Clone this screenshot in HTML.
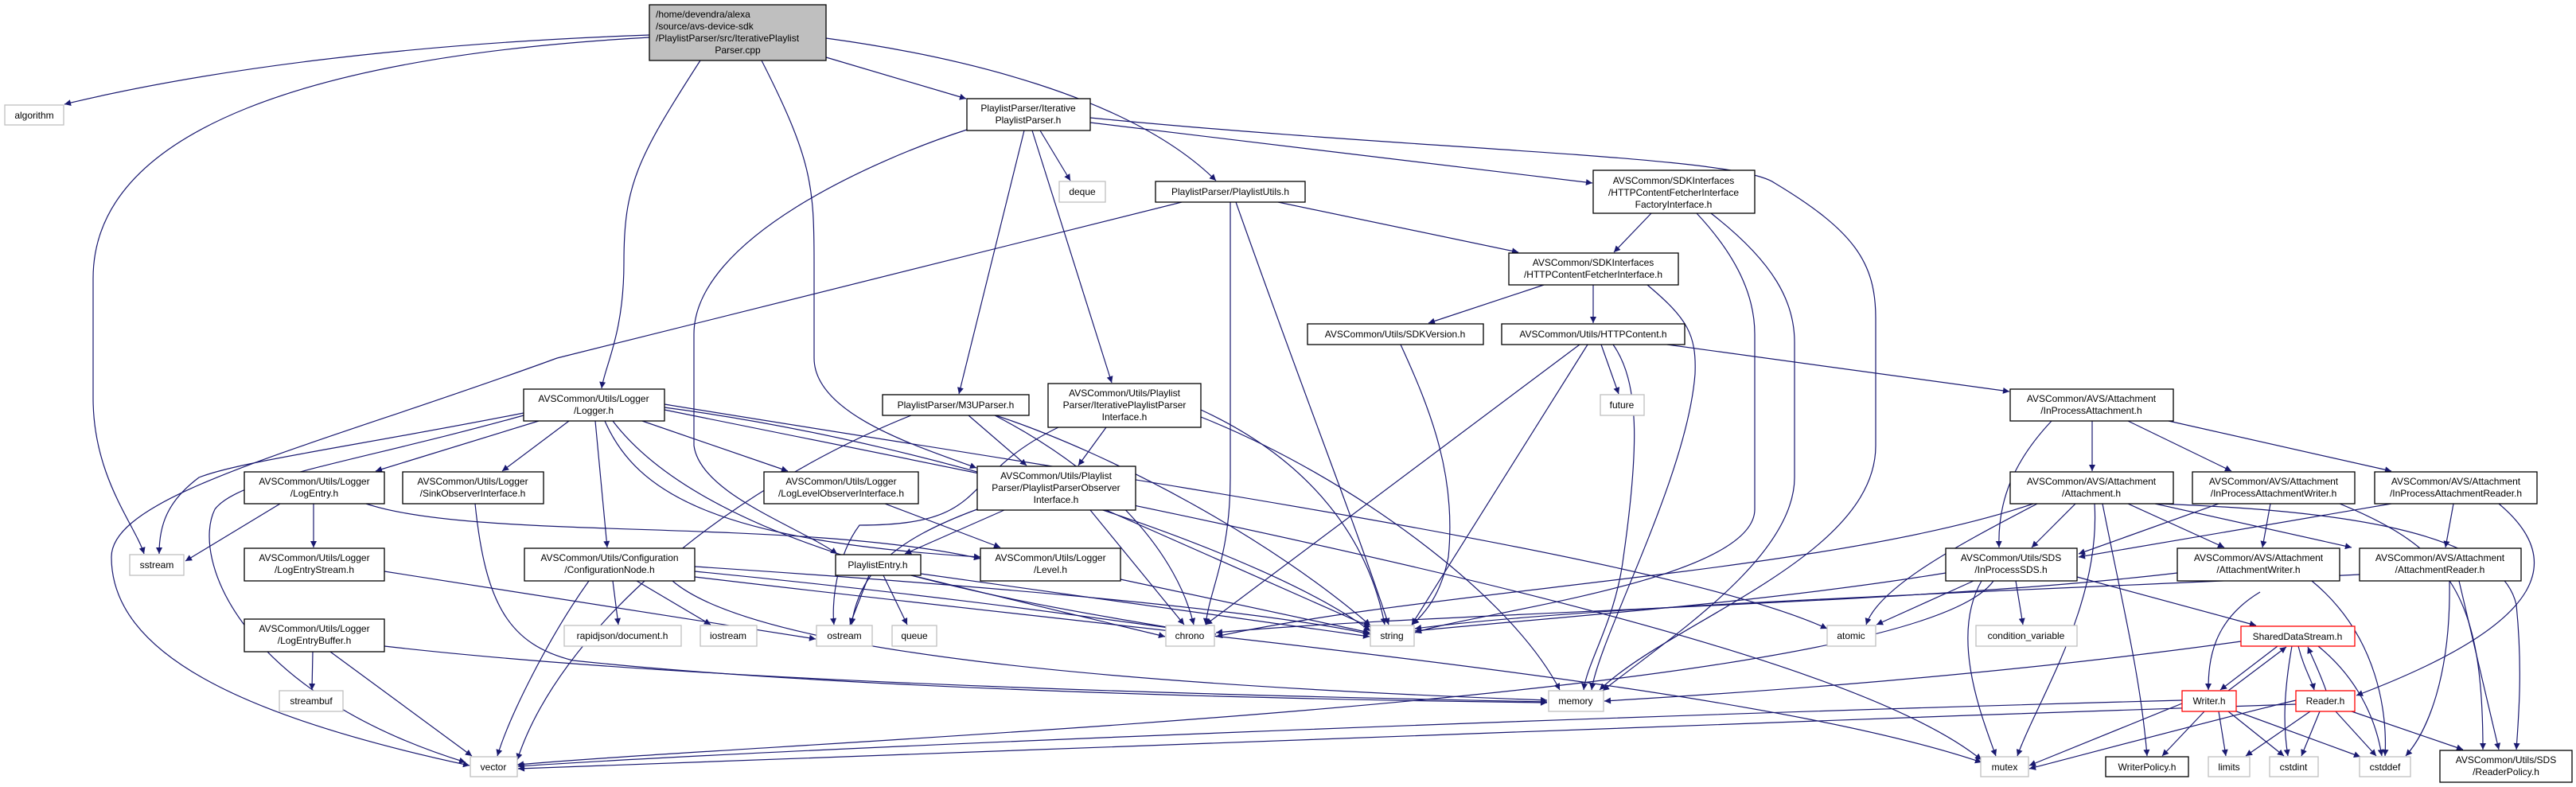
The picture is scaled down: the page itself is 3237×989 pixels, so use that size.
<!DOCTYPE html>
<html><head><meta charset="utf-8"><style>
html,body{margin:0;padding:0;background:#fff;}
svg{display:block;}
text{font-family:"Liberation Sans",sans-serif;font-size:12px;fill:#000;}
.e{fill:none;stroke:#191970;stroke-width:1.2;}
.n{fill:#fff;stroke:#000;stroke-width:1.3;}
.s{fill:#fff;stroke:#bfbfbf;stroke-width:1.3;}
.r{fill:#fff;stroke:#ff0000;stroke-width:1.3;}
</style></head><body>
<svg width="3237" height="989" viewBox="0 0 3237 989" xmlns="http://www.w3.org/2000/svg">
<defs><marker id="a" viewBox="0 0 10 10" refX="10" refY="5" markerWidth="10" markerHeight="8" markerUnits="userSpaceOnUse" orient="auto"><path d="M0,0 L10,5 L0,10 z" fill="#191970"/></marker></defs>
<g class="e" marker-end="url(#a)">
<!-- root -->
<path d="M816,44 C500,55 250,90 81,131"/>
<path d="M816,47 C400,70 117,160 117,350 L117,500 C117,600 170,660 181,696"/>
<path d="M880,76 C800,200 784,233 784,330 C784,420 760,460 756,488"/>
<path d="M957,76 C1020,200 1023,233 1023,330 L1023,450 C1023,520 1150,560 1227,588"/>
<path d="M1038,72 L1214,124"/>
<path d="M1038,48 C1200,70 1420,120 1528,227"/>
<!-- IterativePlaylistParser.h -->
<path d="M1307,164 L1345,227"/>
<path d="M1287,164 L1205,495"/>
<path d="M1297,164 L1397,481"/>
<path d="M1215,163 C1100,200 872,300 872,420 L872,560 C880,620 1000,660 1052,696"/>
<path d="M1370,154 L2001,230"/>
<path d="M1370,148 C1800,190 2180,195 2230,230 C2330,290 2357,330 2357,400 L2357,560 C2357,700 2100,780 2010,867"/>
<!-- PlaylistUtils -->
<path d="M1606,254 L1908,317"/>
<path d="M1485,254 L700,450 C400,560 140,620 140,700 C140,820 300,900 590,962"/>
<path d="M1546,254 L1546,600 C1546,700 1520,740 1515,785"/>
<path d="M1553,254 C1640,500 1700,650 1745,785"/>
<!-- Factory -->
<path d="M2075,268 L2028,317"/>
<path d="M2132,268 C2190,330 2205,380 2205,420 L2205,640 C2205,730 1850,770 1778,795"/>
<path d="M2150,268 C2230,330 2255,380 2255,430 L2255,600 C2255,700 2100,800 2014,868"/>
<!-- HTTPContentFetcherInterface -->
<path d="M1940,358 L1795,406"/>
<path d="M2002,358 L2002,406"/>
<path d="M2070,358 C2120,400 2132,420 2130,470 C2120,600 2010,800 2000,867"/>
<!-- SDKVersion -->
<path d="M1760,433 C1800,520 1830,600 1820,700 C1810,750 1790,770 1775,785"/>
<!-- HTTPContent -->
<path d="M2012,433 L2034,495"/>
<path d="M1985,433 L1515,785"/>
<path d="M1995,433 L1774,785"/>
<path d="M2027,433 C2060,480 2060,560 2040,700 C2030,780 1995,830 1990,867"/>
<path d="M2095,433 L2525,492"/>
<!-- InProcessAttachment -->
<path d="M2629,529 L2629,592"/>
<path d="M2674,529 L2804,592"/>
<path d="M2725,529 L3005,592"/>
<path d="M2578,529 C2530,580 2510,630 2512,688"/>
<!-- Attachment.h -->
<path d="M2608,633 L2553,688"/>
<path d="M2674,633 L2795,688"/>
<path d="M2708,633 L2955,688"/>
<path d="M2560,633 C2450,690 2360,740 2345,785"/>
<path d="M2642,633 C2665,750 2690,850 2698,950"/>
<path d="M2632,633 C2640,760 2560,880 2535,950"/>
<path d="M2555,633 C2300,720 1800,740 1528,800"/>
<path d="M2710,633 C2900,640 3140,660 3162,760 C3170,840 3165,900 3162,942"/>
<!-- InProcessAttachmentWriter -->
<path d="M2788,633 L2612,696"/>
<path d="M2853,633 L2843,688"/>
<path d="M2940,633 C3080,690 3120,750 3120,942"/>
<!-- InProcessAttachmentReader -->
<path d="M3005,633 L2612,700"/>
<path d="M3083,633 L3073,688"/>
<path d="M3140,633 C3220,700 3210,780 2961,874"/>
<!-- InProcessSDS -->
<path d="M2480,730 L2358,785"/>
<path d="M2533,730 L2542,785"/>
<path d="M2610,725 L2835,786"/>
<path d="M2490,730 C2450,800 2490,900 2508,950"/>
<path d="M2445,720 C2200,760 1900,780 1778,793"/>
<path d="M2505,730 C2400,880 1000,930 650,961"/>
<!-- AttachmentWriter -->
<path d="M2840,744 C2780,780 2775,830 2775,867"/>
<path d="M2905,730 C2990,800 3000,900 2997,950"/>
<path d="M2736,720 C2400,760 1800,770 1528,795"/>
<!-- AttachmentReader -->
<path d="M3078,730 C3080,850 3050,920 3023,950"/>
<path d="M3090,730 L3140,942"/>
<path d="M2965,722 C2600,740 2000,760 1778,790"/>
<!-- SharedDataStream -->
<path d="M2862,812 L2790,867"/>
<path d="M2888,812 C2895,840 2905,855 2908,867"/>
<path d="M2880,812 C2868,880 2870,920 2875,950"/>
<path d="M2913,812 C2960,850 2985,900 2993,950"/>
<path d="M2816,806 C2500,850 2200,870 2016,881"/>
<!-- Writer -->
<path d="M2800,868 L2873,813"/>
<path d="M2742,884 L2550,962"/>
<path d="M2770,894 L2717,950"/>
<path d="M2788,894 L2797,950"/>
<path d="M2800,894 L2870,950"/>
<path d="M2805,892 L2966,951"/>
<path d="M2742,880 C2000,900 1000,940 651,963"/>
<!-- Reader -->
<path d="M2923,868 C2915,845 2905,825 2900,813"/>
<path d="M2885,880 C2800,900 2650,940 2550,966"/>
<path d="M2903,894 L2822,950"/>
<path d="M2915,894 L2892,950"/>
<path d="M2935,894 L2986,950"/>
<path d="M2955,894 L3095,942"/>
<path d="M2885,885 C2000,915 1000,950 651,966"/>
<!-- Logger.h -->
<path d="M677,529 L472,592"/>
<path d="M715,529 L631,592"/>
<path d="M807,529 L990,592"/>
<path d="M748,529 L763,688"/>
<path d="M658,519 C450,560 300,580 250,600 C210,630 200,660 200,696"/>
<path d="M658,522 C450,580 300,600 270,640 C240,700 300,870 585,958"/>
<path d="M760,529 C800,620 900,680 1232,700"/>
<path d="M770,529 C900,700 1300,760 1490,792"/>
<path d="M835,512 C1200,560 1600,700 1722,793"/>
<path d="M835,508 C1400,600 2100,700 2296,790"/>
<path d="M835,515 C1500,650 2300,800 2490,955"/>
<!-- LogEntry -->
<path d="M352,633 L233,705"/>
<path d="M394,633 L394,688"/>
<path d="M460,633 C600,680 1000,650 1232,702"/>
<!-- SinkObserver -->
<path d="M597,633 C610,760 640,810 720,830 C1100,870 1700,880 1944,883"/>
<!-- LogLevelObserver -->
<path d="M1112,633 L1257,688"/>
<!-- LogEntryStream -->
<path d="M483,718 L1025,803"/>
<!-- LogEntryBuffer -->
<path d="M393,819 L392,867"/>
<path d="M415,819 L593,950"/>
<path d="M483,812 C900,860 1600,875 1944,882"/>
<!-- ConfigurationNode -->
<path d="M770,730 L777,785"/>
<path d="M800,730 L893,785"/>
<path d="M740,730 C690,800 640,900 625,950"/>
<path d="M873,718 C1200,750 1400,780 1528,797"/>
<path d="M873,712 C1300,740 1600,770 1722,797"/>
<path d="M845,730 C950,820 1400,860 1944,880"/>
<path d="M873,725 C1500,800 2200,860 2490,958"/>
<!-- PlaylistEntry -->
<path d="M1092,723 L1068,785"/>
<path d="M1110,723 L1140,785"/>
<path d="M1145,723 L1464,800"/>
<path d="M1150,720 L1721,800"/>
<!-- Level -->
<path d="M1408,728 L1721,795"/>
<!-- Observer -->
<path d="M1262,641 L1137,696"/>
<path d="M1370,641 L1488,785"/>
<path d="M1390,641 L1722,788"/>
<path d="M1228,640 C1120,680 1080,720 1070,785"/>
<!-- M3UParser -->
<path d="M1217,522 L1290,585"/>
<path d="M1250,522 C1400,600 1480,700 1500,785"/>
<path d="M1245,520 C1400,570 1600,680 1722,786"/>
<path d="M1145,522 C900,620 700,800 650,955"/>
<!-- IterativePlaylistParserInterface -->
<path d="M1390,537 L1355,585"/>
<path d="M1509,515 C1650,580 1720,680 1740,785"/>
<path d="M1509,524 C1700,600 1900,750 1960,867"/>
<path d="M1330,537 C1200,600 1250,660 1080,660 C1050,700 1045,760 1048,785"/>
</g>
<!-- nodes -->
<rect x="816" y="6" width="222" height="70" fill="#bfbfbf" stroke="#000" stroke-width="1.3"/>
<text x="824" y="22">/home/devendra/alexa</text>
<text x="824" y="37">/source/avs-device-sdk</text>
<text x="824" y="52">/PlaylistParser/src/IterativePlaylist</text>
<text x="927" y="67" text-anchor="middle">Parser.cpp</text>
<g text-anchor="middle">
<rect class="s" x="6" y="132" width="74" height="25"/><text x="43" y="149">algorithm</text>
<rect class="n" x="1215" y="124" width="155" height="40"/><text x="1292" y="140">PlaylistParser/Iterative</text><text x="1292" y="155">PlaylistParser.h</text>
<rect class="s" x="1331" y="228" width="58" height="26"/><text x="1360" y="245">deque</text>
<rect class="n" x="1452" y="228" width="188" height="26"/><text x="1546" y="245">PlaylistParser/PlaylistUtils.h</text>
<rect class="n" x="2002" y="214" width="203" height="54"/><text x="2103" y="231">AVSCommon/SDKInterfaces</text><text x="2103" y="246">/HTTPContentFetcherInterface</text><text x="2103" y="261">FactoryInterface.h</text>
<rect class="n" x="1896" y="318" width="213" height="40"/><text x="2002" y="334">AVSCommon/SDKInterfaces</text><text x="2002" y="349">/HTTPContentFetcherInterface.h</text>
<rect class="n" x="1643" y="407" width="221" height="26"/><text x="1753" y="424">AVSCommon/Utils/SDKVersion.h</text>
<rect class="n" x="1887" y="407" width="230" height="26"/><text x="2002" y="424">AVSCommon/Utils/HTTPContent.h</text>
<rect class="s" x="2011" y="496" width="55" height="26"/><text x="2038" y="513">future</text>
<rect class="n" x="2526" y="489" width="205" height="40"/><text x="2628" y="505">AVSCommon/AVS/Attachment</text><text x="2628" y="520">/InProcessAttachment.h</text>
<rect class="n" x="658" y="489" width="177" height="40"/><text x="746" y="505">AVSCommon/Utils/Logger</text><text x="746" y="520">/Logger.h</text>
<rect class="n" x="1109" y="496" width="184" height="26"/><text x="1201" y="513">PlaylistParser/M3UParser.h</text>
<rect class="n" x="1317" y="482" width="192" height="55"/><text x="1413" y="498">AVSCommon/Utils/Playlist</text><text x="1413" y="513">Parser/IterativePlaylistParser</text><text x="1413" y="528">Interface.h</text>
<rect class="n" x="1228" y="586" width="199" height="55"/><text x="1327" y="602">AVSCommon/Utils/Playlist</text><text x="1327" y="617">Parser/PlaylistParserObserver</text><text x="1327" y="632">Interface.h</text>
<rect class="n" x="307" y="593" width="176" height="40"/><text x="395" y="609">AVSCommon/Utils/Logger</text><text x="395" y="624">/LogEntry.h</text>
<rect class="n" x="506" y="593" width="177" height="40"/><text x="594" y="609">AVSCommon/Utils/Logger</text><text x="594" y="624">/SinkObserverInterface.h</text>
<rect class="n" x="960" y="593" width="194" height="40"/><text x="1057" y="609">AVSCommon/Utils/Logger</text><text x="1057" y="624">/LogLevelObserverInterface.h</text>
<rect class="s" x="163" y="697" width="68" height="26"/><text x="197" y="714">sstream</text>
<rect class="n" x="307" y="689" width="176" height="41"/><text x="395" y="705">AVSCommon/Utils/Logger</text><text x="395" y="720">/LogEntryStream.h</text>
<rect class="n" x="659" y="689" width="214" height="41"/><text x="766" y="705">AVSCommon/Utils/Configuration</text><text x="766" y="720">/ConfigurationNode.h</text>
<rect class="n" x="1050" y="697" width="107" height="26"/><text x="1103" y="714">PlaylistEntry.h</text>
<rect class="n" x="1232" y="689" width="176" height="41"/><text x="1320" y="705">AVSCommon/Utils/Logger</text><text x="1320" y="720">/Level.h</text>
<rect class="s" x="709" y="786" width="147" height="26"/><text x="782" y="803">rapidjson/document.h</text>
<rect class="s" x="880" y="786" width="71" height="26"/><text x="915" y="803">iostream</text>
<rect class="s" x="1026" y="786" width="70" height="26"/><text x="1061" y="803">ostream</text>
<rect class="s" x="1121" y="786" width="56" height="26"/><text x="1149" y="803">queue</text>
<rect class="s" x="1465" y="786" width="61" height="26"/><text x="1495" y="803">chrono</text>
<rect class="s" x="1722" y="786" width="55" height="26"/><text x="1749" y="803">string</text>
<rect class="n" x="307" y="778" width="176" height="41"/><text x="395" y="794">AVSCommon/Utils/Logger</text><text x="395" y="809">/LogEntryBuffer.h</text>
<rect class="s" x="351" y="868" width="80" height="26"/><text x="391" y="885">streambuf</text>
<rect class="s" x="1946" y="868" width="69" height="26"/><text x="1980" y="885">memory</text>
<rect class="s" x="591" y="951" width="59" height="25"/><text x="620" y="968">vector</text>
<rect class="n" x="2526" y="593" width="205" height="40"/><text x="2628" y="609">AVSCommon/AVS/Attachment</text><text x="2628" y="624">/Attachment.h</text>
<rect class="n" x="2755" y="593" width="204" height="40"/><text x="2857" y="609">AVSCommon/AVS/Attachment</text><text x="2857" y="624">/InProcessAttachmentWriter.h</text>
<rect class="n" x="2984" y="593" width="204" height="40"/><text x="3086" y="609">AVSCommon/AVS/Attachment</text><text x="3086" y="624">/InProcessAttachmentReader.h</text>
<rect class="n" x="2445" y="689" width="165" height="41"/><text x="2527" y="705">AVSCommon/Utils/SDS</text><text x="2527" y="720">/InProcessSDS.h</text>
<rect class="n" x="2736" y="689" width="204" height="41"/><text x="2838" y="705">AVSCommon/AVS/Attachment</text><text x="2838" y="720">/AttachmentWriter.h</text>
<rect class="n" x="2965" y="689" width="203" height="41"/><text x="3066" y="705">AVSCommon/AVS/Attachment</text><text x="3066" y="720">/AttachmentReader.h</text>
<rect class="s" x="2296" y="786" width="61" height="26"/><text x="2326" y="803">atomic</text>
<rect class="s" x="2483" y="786" width="127" height="26"/><text x="2546" y="803">condition_variable</text>
<rect class="r" x="2816" y="787" width="143" height="25"/><text x="2887" y="804">SharedDataStream.h</text>
<rect class="r" x="2742" y="868" width="68" height="26"/><text x="2776" y="885">Writer.h</text>
<rect class="r" x="2885" y="868" width="74" height="26"/><text x="2922" y="885">Reader.h</text>
<rect class="s" x="2489" y="951" width="60" height="25"/><text x="2519" y="968">mutex</text>
<rect class="n" x="2646" y="951" width="104" height="25"/><text x="2698" y="968">WriterPolicy.h</text>
<rect class="s" x="2775" y="951" width="52" height="25"/><text x="2801" y="968">limits</text>
<rect class="s" x="2852" y="951" width="61" height="25"/><text x="2882" y="968">cstdint</text>
<rect class="s" x="2965" y="951" width="64" height="25"/><text x="2997" y="968">cstddef</text>
<rect class="n" x="3066" y="943" width="166" height="40"/><text x="3149" y="959">AVSCommon/Utils/SDS</text><text x="3149" y="974">/ReaderPolicy.h</text>
</g>
</svg>
</body></html>
